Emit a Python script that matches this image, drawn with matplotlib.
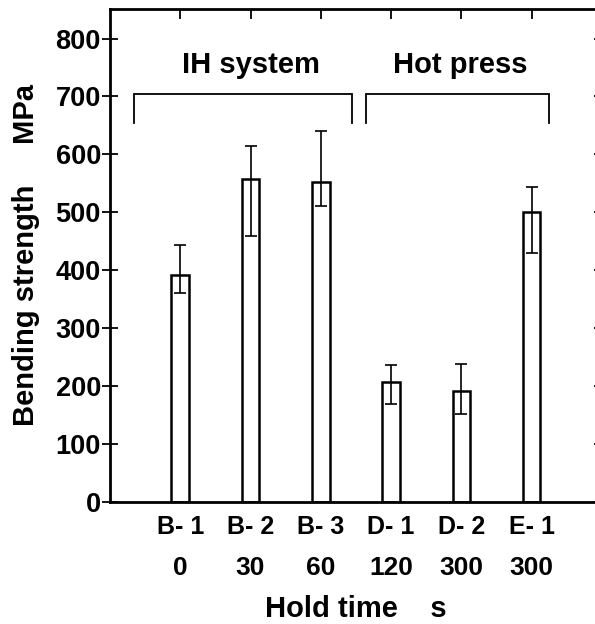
import matplotlib
matplotlib.use("Agg")
import matplotlib.pyplot as plt
import numpy as np

# ---- data ----
samples = ["B- 1", "B- 2", "B- 3", "D- 1", "D- 2", "E- 1"]
hold_times = ["0", "30", "60", "120", "300", "300"]
strength = [392, 557, 552, 208, 192, 500]
err_lower_bound = [361, 459, 511, 170, 152, 430]
err_upper_bound = [444, 615, 641, 237, 238, 543]
y_ticks = [0, 100, 200, 300, 400, 500, 600, 700, 800]
group_names = ["IH system", "Hot press"]

plt.rcParams['font.family'] = ['Liberation Sans', 'DejaVu Sans']
plt.rcParams['font.weight'] = 'bold'

W, H = 595, 624
fig = plt.figure(figsize=(W / 100, H / 100), dpi=100)
left_px, right_px, top_px, bot_px = 110, 601.8, 9, 502
ax = fig.add_axes([left_px / W, 1 - bot_px / H, (right_px - left_px) / W, (bot_px - top_px) / H])

x = np.arange(len(samples))
means = np.array(strength)
lo = means - np.array(err_lower_bound)
hi = np.array(err_upper_bound) - means

ax.bar(x, means, width=0.25, color='white', edgecolor='black', linewidth=1.8, zorder=2)
ax.errorbar(x, means, yerr=[lo, hi], fmt='none', ecolor='black', elinewidth=1.2,
            capsize=4.5, capthick=1.2, zorder=3)

ax.set_xlim(-1, 6)
ax.set_ylim(0, 851)
ax.set_yticks(y_ticks)
ax.set_yticklabels([str(v) for v in y_ticks], fontsize=19.5, fontweight='bold')
ax.set_xticks(x)
ax.set_xticklabels(samples, fontsize=18, fontweight='bold')

# second row of x labels: hold times
for xi, t in zip(x, hold_times):
    ax.text(xi, -0.148, t, transform=ax.get_xaxis_transform(), ha='center',
            va='baseline', fontsize=19, fontweight='bold')

for sp in ax.spines.values():
    sp.set_linewidth(2.0)

ax.tick_params(axis='y', which='major', direction='inout', length=11, width=1.3,
               left=True, right=True, pad=1)
ax.tick_params(axis='x', which='major', direction='in', length=7, width=1.3,
               top=True, bottom=True, pad=9)

ax.set_ylabel("Bending strength     MPa", fontsize=21, fontweight='bold', va='center')
ax.yaxis.set_label_coords(-0.171, 0.5)
ax.set_xlabel("Hold time    s", fontsize=21, fontweight='bold', va='baseline')
ax.xaxis.set_label_coords(0.5, -0.233)

# group brackets
brackets = [(-0.665, 2.445), (2.65, 5.25)]
br_top, br_bot = 704, 655
for (a, b), name in zip(brackets, group_names):
    ax.plot([a, a, b, b], [br_bot, br_top, br_top, br_bot], color='black', lw=1.3,
            solid_joinstyle='miter', zorder=3)
    ax.text((a + b) / 2 + (0.11 if name == "IH system" else 0.04), 741, name,
            ha='center', va='baseline', fontsize=21, fontweight='bold')

fig.savefig("out.png", dpi=100)
